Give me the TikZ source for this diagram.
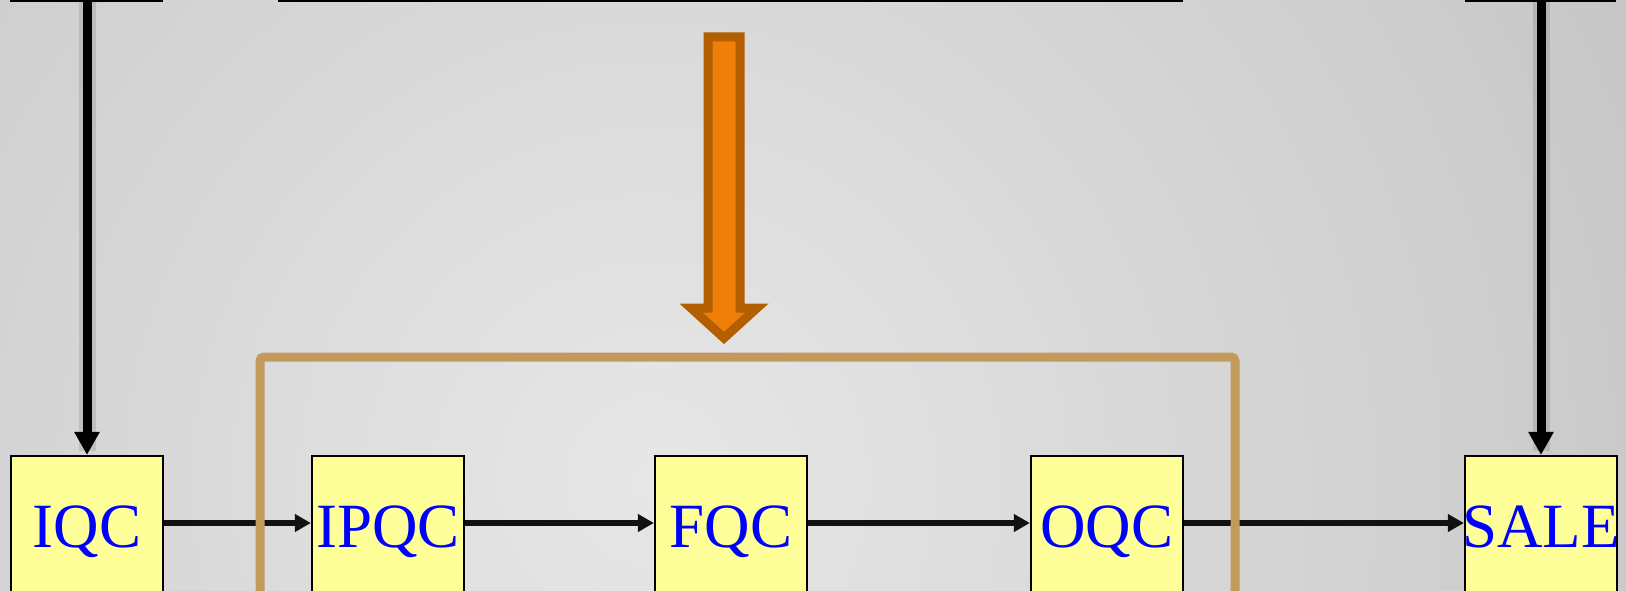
\documentclass[tikz,border=0pt]{standalone}
\usepackage{fontspec}
\setmainfont{Liberation Serif}
\usetikzlibrary{arrows.meta}
\definecolor{bgin}{RGB}{231,231,231}
\definecolor{bgout}{RGB}{154,154,154}
\definecolor{boxfill}{RGB}{255,255,153}
\definecolor{bracketcol}{RGB}{194,154,91}
\definecolor{orfill}{RGB}{240,127,10}
\definecolor{orline}{RGB}{179,95,0}
\definecolor{flowline}{RGB}{17,17,17}
\pgfdeclareradialshading{bgshade}{\pgfpoint{0bp}{0bp}}{color(0bp)=(bgin); color(50bp)=(bgout)}
\begin{document}
\begin{tikzpicture}[x=1pt,y=-1pt,
  qcbox/.style={draw=black, line width=2.2pt, fill=boxfill, minimum width=152pt, minimum height=150pt,
    inner sep=0pt, text=blue, font=\fontsize{63}{70}\selectfont, text height=46pt, text depth=14pt},
  flow/.style={draw=flowline, line width=5.5pt, -{Triangle[length=16pt,width=17pt]}},
  feed/.style={draw=black, line width=9pt, -{Triangle[length=23pt,width=24pt]}},
  feedshadow/.style={draw=black, opacity=0.10, line width=17pt},
  topedge/.style={draw=black, line width=2pt},
  bracket/.style={draw=bracketcol, line width=9pt, rounded corners=4pt},
  bigarrow/.style={draw=orline, fill=orfill, line width=9pt, line join=miter}]
\clip (0,0) rectangle (1626,591);
\shade[shading=bgshade] (650,480) circle[radius=1300pt];
% cut-off box edges at the top
\draw[topedge] (10,1) -- (163,1);
\draw[topedge] (278,1) -- (1183,1);
\draw[topedge] (1465,1) -- (1616,1);
% boxes
\node[qcbox] (iqc) at (87,531) {\makebox[0pt]{IQC}};
\node[qcbox] (ipqc) at (388,531) {\makebox[0pt]{IPQC}};
\node[qcbox] (fqc) at (731,531) {\makebox[0pt]{FQC}};
\node[qcbox] (oqc) at (1107,531) {\makebox[0pt]{OQC}};
\node[qcbox] (sale) at (1541,531) {\makebox[0pt]{SALE}};
% vertical feeds
\coordinate (ltop) at (87,0);
\coordinate (rtop) at (1541,0);
\draw[feedshadow] (ltop) -- ([yshift=4pt]iqc.north);
\draw[feedshadow] (rtop) -- ([yshift=4pt]sale.north);
\draw[feed] (ltop) -- (iqc.north);
\draw[feed] (rtop) -- (sale.north);
% horizontal flow
\draw[flow] ([yshift=8pt]iqc.east) -- ([yshift=8pt]ipqc.west);
\draw[flow] ([yshift=8pt]ipqc.east) -- ([yshift=8pt]fqc.west);
\draw[flow] ([yshift=8pt]fqc.east) -- ([yshift=8pt]oqc.west);
\draw[flow] ([yshift=8pt]oqc.east) -- ([yshift=8pt]sale.west);
% bracket
\draw[bracket] (260,600) -- (260,357) -- (1235,357) -- (1235,600);
% orange arrow
\draw[bigarrow] (708,37) -- (740,37) -- (740,308) -- (757,308) -- (724,338) -- (691,308) -- (708,308) -- cycle;
\end{tikzpicture}
\end{document}
